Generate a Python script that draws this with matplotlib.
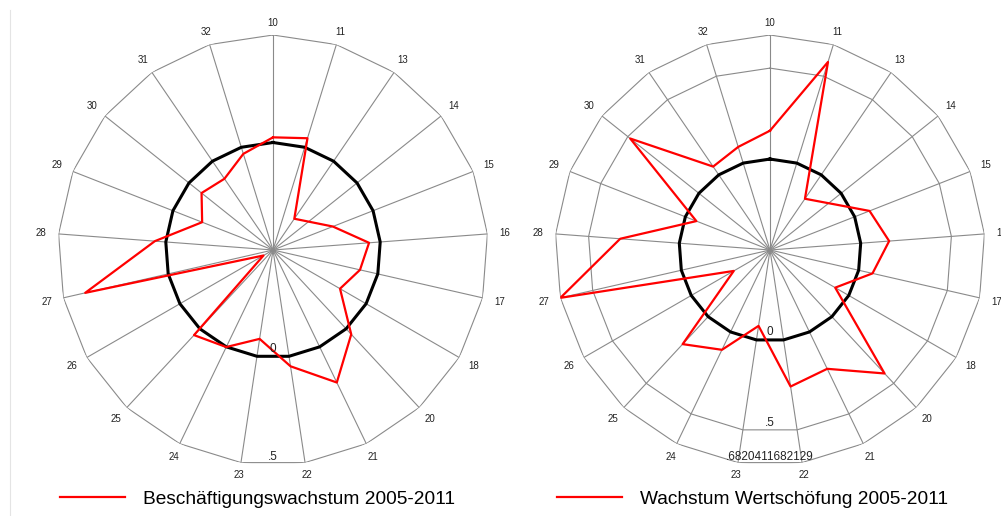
import numpy as np
import matplotlib.pyplot as plt
from matplotlib.lines import Line2D

plt.rcParams['font.family'] = ['Liberation Sans', 'DejaVu Sans']

# Branchen (Kategorien) im Uhrzeigersinn ab oben
branchen = ['10', '11', '13', '14', '15', '16', '17', '18', '20', '21', '22',
            '23', '24', '25', '26', '27', '28', '29', '30', '31', '32']

beschaeftigung = [0.024, 0.044, -0.324, np.nan, -0.201, -0.052, -0.085, -0.14,
                  0.035, 0.184, 0.047, -0.082, 0.001, 0.04, -0.449, 0.396,
                  0.051, -0.146, -0.075, -0.099, -0.032]
wertschoepfung = [0.156, 0.582, -0.159, np.nan, 0.088, 0.157, 0.078, -0.086,
                  0.426, 0.225, 0.259, -0.078, 0.109, 0.206, -0.27, 0.6820411682129,
                  0.326, -0.065, 0.483, 0.055, 0.093]

# Achsen: Minimum im Zentrum, Ringe mit Beschriftung
r_min = -0.5
ringe_links = [0.5]
ringe_rechts = [0.5, 0.6820411682129]
ring_labels_links = ['.5']
ring_labels_rechts = ['.5', '.6820411682129']

legende_links = 'Beschäftigungswachstum 2005-2011'
legende_rechts = 'Wachstum Wertschöfung 2005-2011'

n = len(branchen)
theta = np.arange(n) * 2 * np.pi / n

fig = plt.figure(figsize=(10.01, 5.16), dpi=100)

# dünne Rahmenlinie links
fig.add_artist(Line2D([9.5 / 1001, 9.5 / 1001], [0, 1 - 10 / 516],
                      color='#e4e4e4', lw=0.8))


def radar(cx, values, ringe, ring_labels, legend_text, legend_x):
    R = 215  # Radius in Pixel
    ax = fig.add_axes([(cx - R) / 1001, (516 - 250 - R) / 516, 2 * R / 1001, 2 * R / 516],
                      projection='polar')
    ax.set_theta_zero_location('N')
    ax.set_theta_direction(-1)
    r_max = ringe[-1]
    ax.set_ylim(r_min, r_max)
    ax.grid(False)
    ax.set_xticks([])
    ax.set_yticks([])
    ax.spines['polar'].set_visible(False)
    ax.patch.set_alpha(0)
    px = (r_max - r_min) / R  # Dateneinheiten pro Pixel

    th_closed = np.append(theta, theta[0])

    # Speichen
    for t in theta:
        ax.plot([t, t], [r_min, r_max], color='#8a8a8a', lw=0.8, zorder=1)
    # Ringe
    for rv in ringe:
        ax.plot(th_closed, [rv] * (n + 1), color='#8a8a8a', lw=0.8, zorder=1)
    # Null-Linie
    ax.plot(th_closed, [0] * (n + 1), color='black', lw=2.2, zorder=2)

    # Datenreihe (fehlende Werte überspringen)
    vals = np.array(values, dtype=float)
    mask = ~np.isnan(vals)
    th = np.append(theta[mask], theta[mask][0])
    rr = np.append(vals[mask], vals[mask][0])
    ax.plot(th, rr, color='red', lw=1.6, zorder=3)

    # Kategoriebeschriftung
    for t, lab in zip(theta, branchen):
        off = 12 + 5.5 * abs(np.sin(t))
        ax.text(t, r_max + off * px, lab, ha='center', va='center', fontsize=7,
                color='#222222', clip_on=False)

    # Wertbeschriftung unten
    for rv, lab in zip([0] + ringe, ['0'] + ring_labels):
        ax.text(np.pi, rv - 8.5 * px, lab, ha='center', va='center', fontsize=8.5,
                color='#222222', clip_on=False)

    handle = Line2D([], [], color='red', lw=1.6)
    fig.legend([handle], [legend_text], loc='center left',
               bbox_to_anchor=(legend_x, 1 - 499 / 516), frameon=False,
               fontsize=13.8, handlelength=3.4, handletextpad=0.95,
               borderpad=0, borderaxespad=0)


radar(273, beschaeftigung, ringe_links, ring_labels_links, legende_links, 60 / 1001)
radar(770, wertschoepfung, ringe_rechts, ring_labels_rechts, legende_rechts, 557 / 1001)

fig.savefig('out.png', dpi=100)
